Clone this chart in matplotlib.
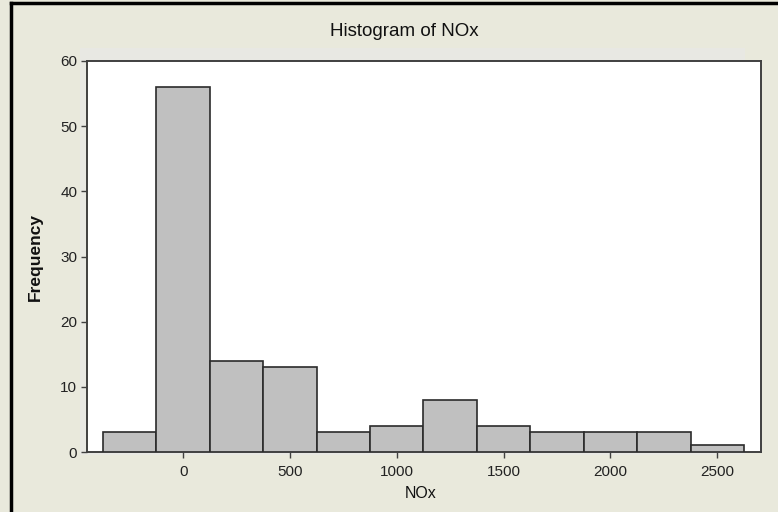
import matplotlib
matplotlib.use("Agg")
import matplotlib.pyplot as plt
from matplotlib.lines import Line2D
from matplotlib.patches import Rectangle

bin_centers = [-250, 0, 250, 500, 750, 1000, 1250, 1500, 1750, 2000, 2250, 2500]
counts = [3, 56, 14, 13, 3, 4, 8, 4, 3, 3, 3, 1]
bin_width = 250
x_ticks = [0, 500, 1000, 1500, 2000, 2500]
y_ticks = [0, 10, 20, 30, 40, 50, 60]
title = "Histogram of NOx"
xlabel = "NOx"
ylabel = "Frequency"

bg = "#E9E9DC"
W, H = 778, 512
plt.rcParams['font.family'] = ['Liberation Sans', 'DejaVu Sans']
fig = plt.figure(figsize=(W / 100, H / 100), dpi=100, facecolor=bg)

# faint lighter data-region band behind the plot
fig.add_artist(Rectangle((80 / W, 1 - 455 / H), (745 - 80) / W, (455 - 48) / H,
                         transform=fig.transFigure, facecolor="#E8E8E3",
                         edgecolor="none", zorder=0))

left, right, top, bottom = 87, 761, 61, 452
ax = fig.add_axes([left / W, 1 - bottom / H, (right - left) / W, (bottom - top) / H])
ax.set_facecolor("white")

ax.bar(bin_centers, counts, width=bin_width, color="#C0C0C0",
       edgecolor="#2b2b2b", linewidth=1.2, zorder=3)

ax.set_xlim(-450, 2705)
ax.set_ylim(0, 60)
ax.set_xticks(x_ticks)
ax.set_yticks(y_ticks)
ax.tick_params(axis="both", direction="out", length=4, width=1,
               color="#404040", labelsize=11, labelcolor="#222222", pad=3)
ax.tick_params(axis="x", pad=5)
for s in ax.spines.values():
    s.set_color("#404040")
    s.set_linewidth(1.4)

fig.text(404 / W, 1 - 31 / H, title, ha="center", va="center",
         fontsize=13.5, color="#111111")
fig.text(421 / W, 1 - 494 / H, xlabel, ha="center", va="center",
         fontsize=11.5, color="#111111")
fig.text(35 / W, 1 - 257 / H, ylabel, ha="center", va="center",
         rotation=90, fontsize=12.5, fontweight="bold", color="#111111")

# outer frame lines (top and left)
fig.add_artist(Line2D([11 / W, 11 / W], [0, 1 - 3 / H], transform=fig.transFigure,
                      color="black", linewidth=2.5))
fig.add_artist(Line2D([11 / W, 1], [1 - 3 / H, 1 - 3 / H], transform=fig.transFigure,
                      color="black", linewidth=2.5))

fig.savefig("out.png", dpi=100, facecolor=bg)
